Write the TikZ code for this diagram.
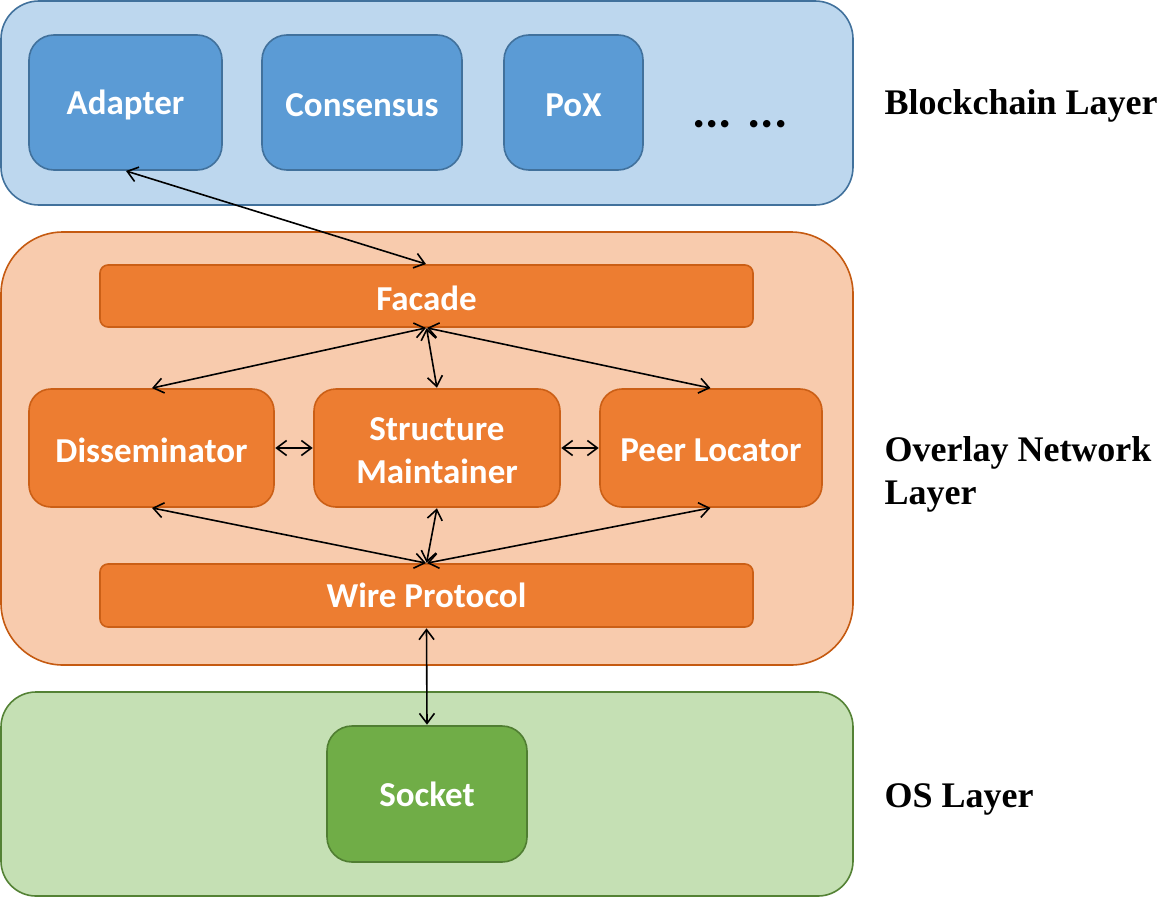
\documentclass[tikz,border=0pt]{standalone}
\usepackage{fontspec}
\newfontfamily\calib{Carlito}
\newfontfamily\timesf{Liberation Serif}
\usetikzlibrary{arrows.meta}
\newcommand{\lowtxt}[1]{\raisebox{-2.5pt}[\height][\depth]{#1}}
\definecolor{bcfill}{HTML}{BDD7EE}
\definecolor{bcdraw}{HTML}{41719C}
\definecolor{bluebox}{HTML}{5B9BD5}
\definecolor{ovfill}{HTML}{F8CBAD}
\definecolor{ovdraw}{HTML}{C55A11}
\definecolor{orbox}{HTML}{ED7D31}
\definecolor{osfill}{HTML}{C5E0B4}
\definecolor{osdraw}{HTML}{548235}
\definecolor{sockfill}{HTML}{70AD47}
\definecolor{sockdraw}{HTML}{507E32}
\tikzset{
  layerbox/.style={rectangle, line width=1.6pt, inner sep=0pt, minimum width=852pt},
  compbox/.style={rectangle, line width=1.6pt, inner sep=0pt, text=white,
    font=\calib\bfseries\fontsize{35}{43}\selectfont, align=center},
  blk/.style={compbox, fill=bluebox, draw=bcdraw, rounded corners=25pt, minimum width=#1, minimum height=135pt},
  orng/.style={compbox, fill=orbox, draw=ovdraw!85!orbox},
  lbl/.style={anchor=west, align=left, font=\timesf\bfseries\fontsize{36}{43}\selectfont},
  arr/.style={{Straight Barb[length=10pt,width=15pt]}-{Straight Barb[length=10pt,width=15pt]}, line width=1.6pt, black, shorten <=0.5pt, shorten >=0.5pt}
}
\begin{document}
\begin{tikzpicture}[x=1pt,y=-1pt]
\useasboundingbox (0,0) rectangle (1174,899);
% layers
\node[layerbox, fill=bcfill, draw=bcdraw, rounded corners=38pt, minimum height=204pt] (bclayer) at (427,103) {};
\node[layerbox, fill=ovfill, draw=ovdraw, rounded corners=62pt, minimum height=433pt] (ovlayer) at (427,448.5) {};
\node[layerbox, fill=osfill, draw=osdraw, rounded corners=35pt, minimum height=204pt] (oslayer) at (427,794) {};
% blockchain components
\node[blk=193pt] (adapter) at (125.5,102.5) {\lowtxt{Adapter}};
\node[blk=200pt] (consensus) at (362,102.5) {\lowtxt{Consensus}};
\node[blk=139pt] (pox) at (573.5,102.5) {\lowtxt{PoX}};
\node[anchor=base west, inner sep=0pt, font=\calib\bfseries\fontsize{50}{60}\selectfont] (dots) at (692,127) {... ...};
% overlay components
\node[orng, rounded corners=8pt, minimum width=653pt, minimum height=62pt] (facade) at (426.5,296) {\lowtxt{Facade}};
\node[orng, rounded corners=22pt, minimum width=245pt, minimum height=118pt] (diss) at (151.5,448) {\lowtxt{Disseminator}};
\node[orng, rounded corners=22pt, minimum width=246pt, minimum height=118pt] (sm) at (437,448) {\lowtxt{Structure}\\\lowtxt{Maintainer}};
\node[orng, rounded corners=22pt, minimum width=222pt, minimum height=118pt] (pl) at (711,448) {\lowtxt{Peer Locator}};
\node[orng, rounded corners=8pt, minimum width=653pt, minimum height=63pt] (wire) at (426.5,595.5) {Wire Protocol};
% OS component
\node[compbox, fill=sockfill, draw=sockdraw, rounded corners=25pt, minimum width=200pt, minimum height=136pt] (socket) at (427,794) {Socket};
% labels
\node[lbl] (lblbc) at (881,106) {Blockchain Layer};
\node[lbl] (lblov) at (881,474) {Overlay Network\\Layer};
\node[lbl] (lblos) at (881,799) {OS Layer};
% connectors
\draw[arr] (adapter.south) -- (facade.north);
\draw[arr] (facade.south) -- (diss.north);
\draw[arr] (facade.south) -- (sm.north);
\draw[arr] (facade.south) -- (pl.north);
\draw[arr] (diss.east) -- (sm.west);
\draw[arr] (sm.east) -- (pl.west);
\draw[arr] (diss.south) -- (wire.north);
\draw[arr] (sm.south) -- (wire.north);
\draw[arr] (pl.south) -- (wire.north);
\draw[arr] (wire.south) -- (socket.north);
\end{tikzpicture}
\end{document}
